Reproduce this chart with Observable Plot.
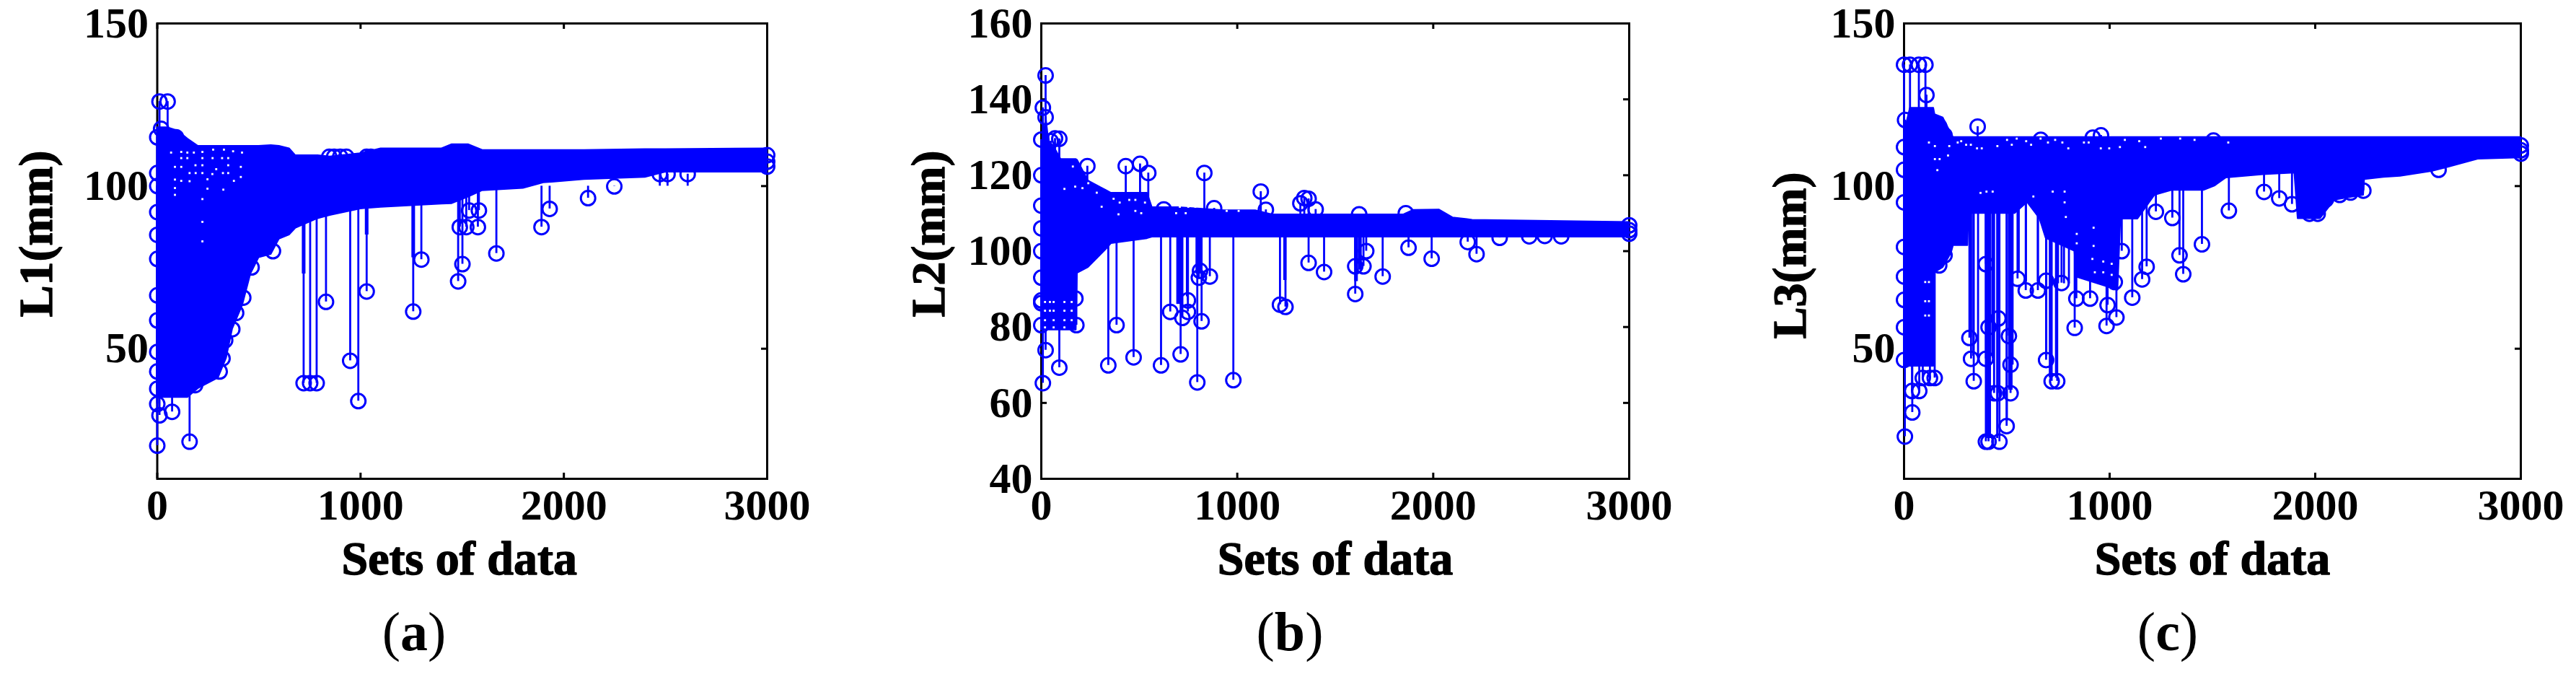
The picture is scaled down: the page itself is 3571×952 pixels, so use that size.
<!DOCTYPE html>
<html><head><meta charset="utf-8">
<script src="https://cdn.jsdelivr.net/npm/d3@7"></script>
<script src="https://cdn.jsdelivr.net/npm/@observablehq/plot@0.6"></script>
<style>
html,body{margin:0;padding:0;background:#fff;width:3571px;height:952px;overflow:hidden}
#row{position:relative;width:3571px;height:952px}
.panel{position:absolute;top:0}
.panel svg{overflow:visible;background:transparent;display:block}
.cap{position:absolute;top:832px;font:76px "Liberation Serif",serif;color:#000;transform:translateX(-50%);white-space:nowrap}
</style></head><body><div id="row"></div>
<script>
// Panel (a) L1
const aBandX    = [0,50,100,150,200,300,340,370,420,460,500,560,600,650,680,790,850,1000,1100,1400,1450,1530,1600,1800,1900,2100,2400,2500,3000];
const aBandHigh = [118,118,117,114.5,112.3,112.3,112.3,112.3,112.3,112.3,112.3,112.5,112.3,111.5,109.4,109.4,109,110,111.5,111.5,112.8,112.8,111,111,111,111,111.3,111.3,111.5];
const aBandLow  = [35,35,35,35,37.7,41,47,56,63.4,73,78,79,83.7,85,87,90,91,93,93.5,94.5,94.6,96.6,98.6,99.3,101,102,102.7,104.3,104.3];
const aOutX = [0,159,73,11,0,0,186,720,752,784,830,949,989,1030,1259,1299,1480,1501,1488,1520,1577,1534,1582,1668,1890,1930,2119,2248,2472,2510,2609,11,51,19,0,92];
const aOutY = [20.2,21.4,30.6,29.5,33,37.7,38.8,39.4,39.4,39.4,64.4,46.3,33.9,67.6,61.4,77.4,70.7,76,87.4,87.4,87.4,92.5,92.5,79.3,87.4,93,96.3,99.9,103.7,103.7,103.7,126,126,117.6,115,115];
const aStemX = [716,724,1026,1034,1255,1263];
const aStemY = [73,73,85,85,78,78];
const aRimX = [0,0,0,0,0,0,0,0,0,569,464,423,388,369,334,321,307,846,870,900,930,1030,1050,3000,3000,3000];
const aRimY = [104,100,92,85,77.6,66.4,58.7,49,43,80,75,65.7,61,56,52.6,47,43,109,109,109,109,109,109,109.5,107.5,106];
const aSpeckX = [68,118,148,180,222,275,328,373,417,118,148,222,272,319,349,87,118,188,222,290,349,411,159,189,222,271,323,349,87,118,159,247,377,411,87,247,325,87,222,222,222];
const aSpeckY = [110.3,110.5,110.3,110.3,110.5,111.2,111.2,110.7,110.3,108.6,108.6,108.6,108.6,108.6,108.6,105.9,105.9,106.4,106.4,105.2,106.4,105.9,104,104,104,103.7,104,104,102,101.6,101.5,102.1,101.6,102.8,99.4,99.2,98.9,97.3,96,89,83];

// Panel (b) L2
const bBandX    = [0,10,25,40,70,100,178,184,240,332,357,541,566,700,935,1093,1178,1620,1850,1900,2030,2100,2200,3000];
const bBandHigh = [121,130,135,128,127,124.2,124.2,124,118.5,116,115.3,115.3,111.5,111.5,110.7,110.7,109.6,109.6,109.6,110.8,110.9,108.8,108.2,107.6];
const bBandLow  = [79.2,79.2,79.2,79.2,79.2,79.2,79.2,94.2,95.7,100.5,102,103.3,103.7,103.7,103.7,103.7,103.7,103.7,103.7,103.7,103.7,103.7,103.7,103.7];
const bOutX = [22,8,22,0,70,92,48,235,431,504,546,832,1120,1146,625,882,1342,1364,1622,1860,440,496,1322,1400,8,22,0,0,92,179,174,342,384,471,611,658,711,720,748,748,796,818,810,804,860,980,1218,1246,1364,1443,1602,1602,1644,1658,1742,1874,1992,2176,2221,2339,2490,2569,2653];
const bOutY = [146.3,137.8,135.3,129.4,129.7,129.6,129,122.4,122.4,123,120.6,120.6,115.7,110.9,111,111.3,114,113.8,109.7,110,113.4,113.4,112.6,111,65.2,73.9,80.5,86.3,69.3,80.5,87.5,69.9,80.5,72,69.9,84,72.8,82.4,87,84,65.4,81.5,94.8,93,93.3,66,85.9,85.3,96.9,94.5,88.7,96,96,100,93.3,100.9,98,102.4,99.2,103.5,103.9,104,103.9];
const bStemX = [694,700,706,712,718,743,792,798,804,810,816,1240,1246,1602,1610,1620,1630];
const bStemY = [86,86,86,86,86,88,94,94,94,94,94,92.3,92.3,92,92,95,95];
const bRimX = [0,0,0,0,0,0,3000,3000,3000];
const bRimY = [120,112,106,100,93,87,106.8,105.5,104.6];
const bSpeckX = [19,44,63,118,155,19,44,63,118,155,19,63,118,155,19,63,118,161,118,173,210,240,283,308,394,369,400,449,480,529,707,750,786,946,1007,480,510,688,737];
const bSpeckY = [86.6,86.6,86.6,86.6,86.6,84.3,84.3,84.3,84.3,84.3,81.8,81.8,81.8,81.8,79.9,79.9,79.9,122.3,116.4,117,116.6,117.9,115.4,111.7,109.7,113.8,112.8,113.5,113.5,112.8,111.7,111.7,111.7,110.6,110.6,110.6,110,110,110];

// Panel (c) L3
const cBandX    = [0,30,60,100,144,150,190,230,240,310,315,540,600,660,690,830,840,1040,1054,1137,1220,1303,1458,1511,1566,1748,1900,1916,2025,2095,2235,2240,2333,2414,2567,2637,2792,3000];
const cBandHigh = [116,124,124,124,124,122,121,116,115,115,115,115,115,115,115,115,115,115,115,115,115,115,115,115,115,115,115,115,115,115,115,115,115,115,115,115,115,115];
const cBandLow  = [44.6,44.6,44.6,44.6,44.6,73.4,75,79.4,81.7,81.7,91.6,91.6,95,90,84,80,72,68,89.9,89.9,97.2,98.7,98.7,100,102.5,103.5,104,90,90,95.7,97.2,102,102.7,103,104.5,105.6,108.3,108.7];
const cOutX = [0,29,72,104,109,5,91,171,358,197,665,958,918,1505,4,40,74,39,126,149,91,0,0,197,171,318,326,339,398,411,398,464,438,456,518,499,518,510,459,411,398,691,718,745,552,592,651,691,766,830,838,905,985,1033,1025,990,1110,1158,1180,1059,1225,1305,1340,1358,1449,1580,1751,1825,1887,1972,2012,2052,2119,2172,2234,2600];
const cOutY = [137.3,137.3,137.3,137.3,128,120.3,121,118.3,118.3,115.6,114.2,115.6,114.9,114,23,30.4,37,37,41,41,41,46.5,56.6,78.7,75.6,53.3,46.9,40,46.9,21.4,21.4,21.4,36.3,36.3,36.3,26.2,45.1,53.9,59.3,56.6,76,46.5,40,40,71.5,67.9,67.9,70.9,70.2,56.4,65.4,65.4,57,59.6,70.5,63.4,65.7,71.3,75.2,80,92.1,90.2,78.7,72.9,82.1,92.4,98.2,96.2,94.4,91.5,91.5,95.9,97.3,98,98.6,105];
const cStemX = [325,337,360,400,408,418,429,453,500,512,523,528,558,593,651,692,709,739,749,778,802];
const cStemY = [53.5,47.7,47.7,22.4,22.4,22.4,47.7,22.4,27.7,37.3,37.3,45,73.4,70.6,70.6,47.7,41,41,70,70,70];
const cRimX = [0,0,0,0,0,0,3000,3000,3000];
const cRimY = [112,105,95,81.3,72.2,65,112.5,111,110];
const cSpeckX = [121,150,220,150,173,162,214,261,278,302,325,355,378,454,501,524,548,594,618,664,700,735,770,799,875,898,957,998,1050,1074,1144,1173,1249,1343,1413,1577,401,431,372,723,781,629,922,922,916,969,1010,969,928,1010,103,121,103,121,103,121,840,840,781,787];
const cSpeckY = [113.4,112.3,112.3,108.3,108.3,104.9,109.4,113.4,113.8,112.7,112.7,111.6,111.6,112.3,114.2,112.7,114.6,113.8,112.7,114.6,113.4,114.2,113.4,111.6,113.4,113.4,111.6,111.6,112,114.2,113.8,112,114.6,114.6,114.2,113.4,98.3,98.3,97.9,98.3,98.3,96.8,87.2,81.6,77.6,76.8,76.1,73.5,73.5,72.7,70.5,70.5,64.6,64.6,60.2,60.2,82.4,85.3,95,90.5];

const xTicks = [0,1000,2000,3000];
const blue = "#0000ff";
const serif = "'Liberation Serif','Times New Roman',serif";
const tickLen = 8, svgHeight = 830, mTop = 32, mBottom = 167;

function zip(xs, ys){ return xs.map((x,i)=>({x, y:ys[i]})); }

function panel(o){
  const band = o.bandX.map((x,i)=>({x, high:o.bandHigh[i], low:o.bandLow[i]}));
  const out = zip(o.outX,o.outY), rim = zip(o.rimX,o.rimY), speck = zip(o.speckX||[],o.speckY||[]), stems = zip(o.stemX,o.stemY);
  const lab = {fontFamily:serif,fontWeight:"bold",fill:"#000",stroke:"#000",strokeWidth:1.4};
  const innerW = o.width-o.ml-o.mr, innerH = svgHeight-mTop-mBottom;
  const tick = {stroke:"#000",strokeWidth:3};
  const svg = Plot.plot({
    width:o.width, height:svgHeight,
    marginTop:mTop, marginBottom:mBottom, marginLeft:o.ml, marginRight:o.mr,
    x:{domain:[0,3000]}, y:{domain:o.yDomain},
    style:{background:"transparent",overflow:"visible"},
    marks:[
      Plot.frame({stroke:"#000",strokeWidth:3}),
      Plot.axisX({anchor:"bottom",ticks:xTicks,tickFormat:d3.format("d"),label:null,tickSize:0,tickPadding:14,fontSize:60,...lab}),
      Plot.axisY({anchor:"left",ticks:o.yTicks,tickFormat:d3.format("d"),label:null,tickSize:0,tickPadding:12,fontSize:60,...lab}),
      Plot.ruleX(xTicks,{insetBottom:innerH-tickLen,...tick}),
      Plot.ruleX(xTicks,{insetTop:innerH-tickLen,...tick}),
      Plot.ruleY(o.yTicks,{insetRight:innerW-tickLen,...tick}),
      Plot.ruleY(o.yTicks,{insetLeft:innerW-tickLen,...tick}),
      Plot.areaY(band,{x:"x",y1:"low",y2:"high",fill:blue,stroke:blue,strokeWidth:2,curve:"linear"}),
      Plot.ruleX(stems,{x:"x",y1:o.base,y2:"y",stroke:blue,strokeWidth:2.8}),
      Plot.ruleX(out,{x:"x",y1:o.base,y2:"y",stroke:blue,strokeWidth:2.8}),
      Plot.dot(out,{x:"x",y:"y",r:10,stroke:blue,strokeWidth:3,fill:"none"}),
      Plot.dot(rim,{x:"x",y:"y",r:10,stroke:blue,strokeWidth:3,fill:"none"}),
      Plot.dot(speck,{x:"x",y:"y",r:1.6,fill:"#fff",symbol:"square"}),
      Plot.text(["Sets of data"],{frameAnchor:"bottom",dy:132,dx:o.xLabelDx,textAnchor:"middle",fontSize:66,...lab}),
      Plot.text([o.yLabel],{frameAnchor:"left",rotate:-90,textAnchor:"middle",dx:o.yLabelDx,dy:o.yLabelDy,fontSize:66,...lab})
    ]
  });
  const d = document.createElement("div");
  d.className="panel"; d.style.left=o.left+"px"; d.appendChild(svg);
  document.getElementById("row").appendChild(d);
  const c = document.createElement("div");
  c.className="cap"; c.style.left=o.capX+"px"; c.innerHTML="(<b>"+o.cap+"</b>)";
  document.getElementById("row").appendChild(c);
}

panel({left:0,width:1190,ml:217.5,mr:127,yDomain:[10,150],yTicks:[50,100,150],base:100,
  bandX:aBandX,bandHigh:aBandHigh,bandLow:aBandLow,outX:aOutX,outY:aOutY,stemX:aStemX,stemY:aStemY,rimX:aRimX,rimY:aRimY,speckX:aSpeckX,speckY:aSpeckY,
  yLabel:"L1(mm)",yLabelDx:-167,yLabelDy:-24,xLabelDx:-4,cap:"a",capX:574});
panel({left:1190,width:1190,ml:253,mr:122,yDomain:[40,160],yTicks:[40,60,80,100,120,140,160],base:105,
  bandX:bBandX,bandHigh:bBandHigh,bandLow:bBandLow,outX:bOutX,outY:bOutY,stemX:bStemX,stemY:bStemY,rimX:bRimX,rimY:bRimY,speckX:bSpeckX,speckY:bSpeckY,
  yLabel:"L2(mm)",yLabelDx:-156,yLabelDy:-24,xLabelDx:0,cap:"b",capX:1788});
panel({left:2380,width:1191,ml:259,mr:77,yDomain:[10,150],yTicks:[50,100,150],base:105,
  bandX:cBandX,bandHigh:cBandHigh,bandLow:cBandLow,outX:cOutX,outY:cOutY,stemX:cStemX,stemY:cStemY,rimX:cRimX,rimY:cRimY,speckX:cSpeckX,speckY:cSpeckY,
  yLabel:"L3(mm)",yLabelDx:-158,yLabelDy:6,xLabelDx:0,cap:"c",capX:3005});
</script></body></html>
